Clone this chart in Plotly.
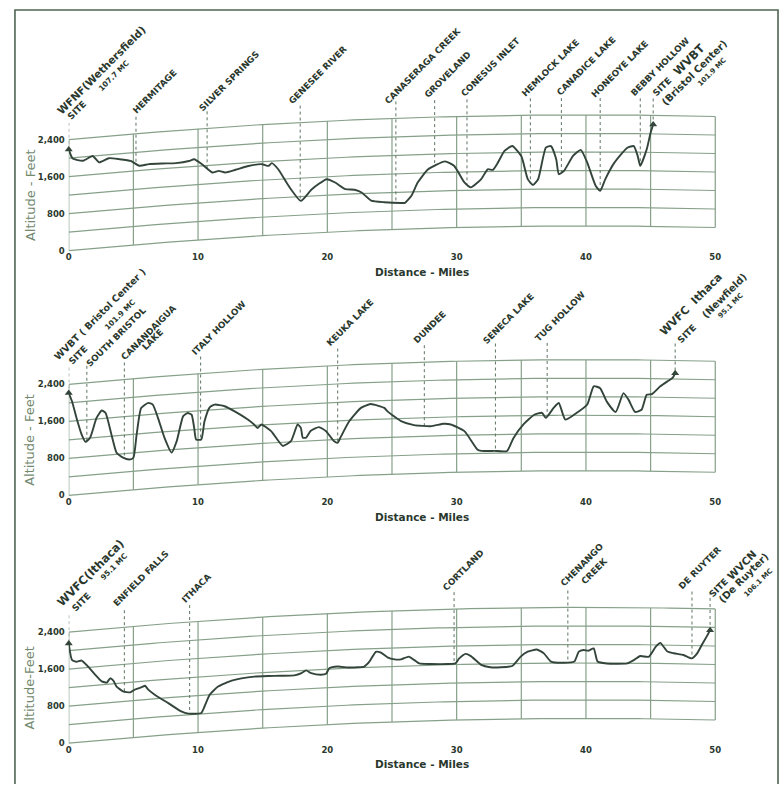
import numpy as np
import plotly.graph_objects as go

# ---------------- data (miles, feet) ----------------
p1_mile = [0.0, 0.3, 1.1, 1.85, 2.35, 3.1, 3.9, 4.8, 5.45, 6.2, 7.25, 8.3, 9.3, 9.7, 10.3, 11.1,
           11.6, 12.1, 12.9, 13.9, 14.95, 15.45, 15.7, 16.2, 17.0, 17.95, 18.8, 19.95, 20.6, 21.4,
           22.1, 22.65, 23.4, 24.4, 25.7, 26.0, 26.5, 27.0, 27.8, 29.1, 29.8, 30.6, 31.1, 31.9,
           32.4, 32.8, 33.2, 33.7, 34.3, 35.0, 35.5, 35.9, 36.3, 36.9, 37.3, 37.7, 37.9, 38.3,
           39.0, 39.6, 40.1, 40.75, 41.1, 41.5, 42.2, 43.2, 43.7, 44.0, 44.2, 44.7, 45.0, 45.2]
p1_alt = [2190, 1985, 1915, 2000, 1850, 1920, 1880, 1820, 1700, 1720, 1710, 1695, 1720, 1750, 1630,
          1435, 1460, 1415, 1460, 1525, 1545, 1500, 1555, 1415, 1045, 705, 945, 1145, 1065, 910,
          890, 825, 640, 595, 565, 565, 715, 1000, 1275, 1435, 1335, 970, 860, 1035, 1245, 1230,
          1390, 1635, 1740, 1520, 1020, 890, 1015, 1695, 1730, 1445, 1120, 1190, 1515, 1645, 1370,
          870, 760, 1015, 1370, 1695, 1730, 1520, 1305, 1665, 2025, 2205]

p2_mile = [0.0, 0.25, 0.6, 1.0, 1.3, 1.65, 2.15, 2.55, 2.85, 3.3, 3.7, 4.2, 4.7, 5.0, 5.25, 5.6,
           6.15, 6.5, 6.9, 7.4, 7.95, 8.35, 8.85, 9.2, 9.5, 9.7, 9.85, 10.25, 10.5, 10.9, 11.3,
           12.05, 12.8, 13.85, 14.35, 14.6, 14.9, 15.65, 16.55, 17.2, 17.7, 17.95, 18.1, 18.35,
           18.7, 19.35, 19.9, 20.5, 20.8, 21.0, 21.7, 22.6, 23.35, 24.4, 24.7, 25.7, 26.7, 28.0,
           29.0, 29.55, 30.6, 31.6, 31.9, 32.9, 33.9, 34.4, 35.2, 36.0, 36.6, 36.9, 37.5, 37.9,
           38.4, 39.1, 40.1, 40.6, 41.1, 41.6, 42.3, 42.9, 43.3, 43.8, 44.3, 44.7, 45.1, 45.75,
           46.3, 46.7, 46.9]
p2_alt = [2215, 2030, 1660, 1290, 1125, 1205, 1620, 1770, 1710, 1235, 830, 710, 660, 690, 1185,
          1750, 1850, 1805, 1510, 1070, 735, 975, 1505, 1565, 1525, 1235, 980, 970, 1360, 1655,
          1705, 1655, 1535, 1335, 1215, 1140, 1210, 1055, 720, 820, 1165, 1090, 875, 870, 1010,
          1085, 990, 770, 725, 830, 1185, 1460, 1535, 1440, 1350, 1140, 1045, 1010, 1055, 1035,
          885, 485, 450, 445, 440, 720, 1020, 1215, 1255, 1145, 1360, 1465, 1105, 1215, 1430,
          1825, 1785, 1500, 1270, 1680, 1535, 1275, 1325, 1650, 1665, 1835, 1945, 2020, 2125]

p3_mile = [0.0, 0.25, 0.6, 1.0, 1.5, 2.05, 2.55, 2.95, 3.2, 3.45, 3.7, 4.2, 4.75, 5.1, 5.65, 5.9,
           6.15, 6.65, 7.7, 8.7, 9.25, 10.25, 10.5, 10.9, 11.55, 12.6, 13.35, 14.35, 15.4, 16.4,
           17.45, 18.0, 18.35, 18.75, 19.5, 19.9, 20.15, 20.8, 21.6, 22.35, 22.85, 23.25, 23.75,
           24.15, 24.65, 25.2, 25.7, 26.3, 26.7, 27.1, 28.0, 29.3, 29.9, 30.2, 30.7, 31.1, 31.9,
           32.6, 33.4, 34.3, 34.95, 35.5, 36.2, 36.75, 37.3, 38.3, 39.1, 39.45, 39.8, 40.2, 40.6,
           40.9, 41.6, 43.2, 43.7, 44.2, 44.85, 45.4, 45.75, 46.3, 46.8, 47.55, 48.2, 48.6, 49.0,
           49.4, 49.6]
p3_alt = [2155, 1795, 1745, 1760, 1615, 1425, 1270, 1235, 1320, 1265, 1130, 1015, 980, 1030, 1070,
          1095, 1005, 885, 680, 480, 420, 415, 550, 795, 960, 1070, 1105, 1125, 1120, 1110, 1100,
          1140, 1195, 1130, 1085, 1100, 1215, 1245, 1215, 1210, 1220, 1320, 1530, 1505, 1400, 1350,
          1345, 1400, 1325, 1245, 1225, 1215, 1225, 1330, 1425, 1375, 1180, 1125, 1120, 1145, 1345,
          1450, 1495, 1410, 1230, 1205, 1230, 1445, 1480, 1465, 1515, 1230, 1190, 1195, 1265, 1355,
          1340, 1560, 1645, 1460, 1425, 1390, 1320, 1430, 1635, 1830, 1940]

p1_places = ["HERMITAGE", "SILVER SPRINGS", "GENESEE RIVER", "CANASERAGA CREEK", "GROVELAND",
             "CONESUS INLET", "HEMLOCK LAKE", "CANADICE LAKE", "HONEOYE LAKE", "BEBBY HOLLOW"]
p1_place_mile = [5.2, 10.7, 17.9, 25.3, 28.3, 30.8, 35.7, 38.1, 41.1, 44.2]
p2_places = ["SOUTH BRISTOL", "CANANDAIGUA", "ITALY HOLLOW", "KEUKA LAKE", "DUNDEE",
             "SENECA LAKE", "TUG HOLLOW"]
p2_place_mile = [1.4, 4.3, 10.2, 20.8, 27.5, 33.0, 37.0]
p3_places = ["ENFIELD FALLS", "ITHACA", "CORTLAND", "CHENANGO", "DE RUYTER"]
p3_place_mile = [4.3, 9.35, 29.8, 38.6, 48.2]

x_ticks = [0, 10, 20, 30, 40, 50]
y_ticks = [0, 800, 1600, 2400]
y_tick_text = ["0", "800", "1,600", "2,400"]
grid_alt = [0, 400, 800, 1200, 1600, 2000, 2400]
grid_mile = [0, 5, 10, 15, 20, 25, 30, 35, 40, 45, 50]

# ---------------- styling / geometry ----------------
W, H = 781, 788
PXM = 12.98        # px per mile
X0PX = 66
XMAX = 50.8
S = 0.0465         # px per foot
D = 535.0          # earth-curvature bulge (ft) at apex
GAP = 18 / S       # label gap above grid top
INK = "#2a382d"
PROF = "#33453a"
GRID = "#86a089"
DASH = "#5d7461"
AXT = "#72896f"
FONT = "DejaVu Sans"
PLACE_FS = 8.8

# label start offsets (px, right / down) from the top of each leader line
place_off = {
    "HERMITAGE": (0, -1), "SILVER SPRINGS": (-5, 2), "GENESEE RIVER": (-9, 1),
    "CANASERAGA CREEK": (-9, 5), "GROVELAND": (-8, 0), "CONESUS INLET": (-3, -1),
    "HEMLOCK LAKE": (-6, 0), "CANADICE LAKE": (-2, 0), "HONEOYE LAKE": (-6, 2),
    "BEBBY HOLLOW": (-7, 0),
    "SOUTH BRISTOL": (2, 3), "CANANDAIGUA": (-1, 0), "ITALY HOLLOW": (-6, 1),
    "KEUKA LAKE": (-9, 0), "DUNDEE": (-8, 0), "SENECA LAKE": (-10, 3), "TUG HOLLOW": (-9, 1),
    "ENFIELD FALLS": (-8, -2), "ITHACA": (-5, 0), "CORTLAND": (-8, 1), "CHENANGO": (-4, -2),
    "DE RUYTER": (-11, 0),
}
second_lines = {"CANANDAIGUA": ("LAKE", 20, -10), "CHENANGO": ("CREEK", 16, -4)}

# site texts: (text, fontsize, dx, dy)
site_text = {
    ("", "L"): [("WFNF(Wethersfield)", 10.5, -9, -7), ("SITE", 9, 2, -1),
                ("107.7 MC", 7.5, 32, -29)],
    ("", "R"): [("SITE", 9, 2, 0), ("WVBT", 11.5, 23, -21),
                ("(Bristol Center)", 10, 12, 9), ("101.9 MC", 7, 47, -9)],
    ("2", "L"): [("WVBT ( Bristol Center )", 9.5, -12, -5), ("SITE", 9, 3, -1),
                 ("101.9 MC", 7.5, 38, -35)],
    ("2", "R"): [("WVFC\u00a0\u00a0Ithaca", 11, -12, -6), ("SITE", 9, 5, 2),
                 ("(Newfield)", 10, 30, -24), ("95.1 MC", 7, 45, -22)],
    ("3", "L"): [("WVFC(Ithaca)", 11.5, -9, -7), ("SITE", 9, 6, -2),
                 ("95.1 MC", 7.5, 34, -32)],
    ("3", "R"): [("SITE", 9, 2, 8), ("WVCN", 10.5, 20, -10),
                 ("(De Ruyter)", 10, 12, 13), ("106.1 MC", 7, 36, 8)],
}


def bulge(m):
    m = np.asarray(m, dtype=float)
    return D * (1 - ((40 - m) / 40) ** 2)


def level(m):
    return float(2400 + bulge(m) + GAP)


panels = [
    dict(sfx="", p0=252, top=14, miles=p1_mile, alt=p1_alt, places=p1_places,
         pmiles=p1_place_mile, ytitle="Altitude - Feet", xt_y=273),
    dict(sfx="2", p0=498, top=280, miles=p2_mile, alt=p2_alt, places=p2_places,
         pmiles=p2_place_mile, ytitle="Altitude - Feet", xt_y=520),
    dict(sfx="3", p0=747, top=535, miles=p3_mile, alt=p3_alt, places=p3_places,
         pmiles=p3_place_mile, ytitle="Altitude-Feet", xt_y=768),
]

fig = go.Figure()
annotations = []
layout = dict(width=W, height=H, margin=dict(l=0, r=0, t=0, b=0),
              paper_bgcolor="white", plot_bgcolor="rgba(0,0,0,0)", showlegend=False)


def rot(sfx, mile, yval, text, fs, dx, dy, color=INK):
    hbox = 1.3 * fs + 4
    c = 0.45 * fs - 0.5
    annotations.append(dict(
        x=mile, y=yval, xref="x" + sfx, yref="y" + sfx,
        text="<b>%s</b>" % text, textangle=-45,
        xanchor="left", yanchor="bottom", showarrow=False,
        xshift=dx - 0.707 * hbox + c, yshift=-(dy + c),
        font=dict(family=FONT, size=fs, color=color)))


for P in panels:
    sfx = P["sfx"]
    xr, yr = "x" + sfx, "y" + sfx
    p0, top = P["p0"], P["top"]
    ymin, ymax = -1 / S, (p0 - top) / S
    layout["xaxis" + sfx] = dict(
        domain=[X0PX / W, (X0PX + XMAX * PXM) / W], range=[0, XMAX], anchor=yr,
        tickvals=x_ticks, ticktext=[str(t) for t in x_ticks], showgrid=False, zeroline=False,
        showline=False, ticks="", ticklabelstandoff=-1,
        tickfont=dict(family=FONT, size=8.5, color=INK, weight="bold"))
    layout["yaxis" + sfx] = dict(
        domain=[1 - (p0 + 1) / H, 1 - top / H], range=[ymin, ymax], anchor=xr,
        tickvals=y_ticks, ticktext=y_tick_text, showgrid=False, zeroline=False, showline=False,
        ticks="", ticklabelstandoff=3,
        tickfont=dict(family=FONT, size=8.5, color=INK, weight="bold"))

    # curved-earth grid
    gx = np.linspace(0, 50, 101)
    hx, hy = [], []
    for a in grid_alt:
        hx += list(gx) + [None]
        hy += list(a + bulge(gx)) + [None]
    vx, vy = [], []
    for m in grid_mile:
        vx += [m, m, None]
        vy += [float(bulge(m)), float(2400 + bulge(m)), None]
    fig.add_trace(go.Scatter(x=hx, y=hy, xaxis=xr, yaxis=yr, mode="lines",
                             line=dict(color=GRID, width=1.2), hoverinfo="skip"))
    fig.add_trace(go.Scatter(x=vx, y=vy, xaxis=xr, yaxis=yr, mode="lines",
                             line=dict(color=GRID, width=1.2), hoverinfo="skip"))

    miles = np.array(P["miles"], float)
    alt = np.array(P["alt"], float)

    # dashed leader lines
    lx, ly = [], []
    for m in P["pmiles"] + [miles[0], miles[-1]]:
        lx += [m, m, None]
        ly += [level(m) - 1 / S, float(np.interp(m, miles, alt) + bulge(m)), None]
    fig.add_trace(go.Scatter(x=lx, y=ly, xaxis=xr, yaxis=yr, mode="lines",
                             line=dict(color=DASH, width=1, dash="3px,3px"), hoverinfo="skip"))

    # terrain profile
    fig.add_trace(go.Scatter(x=miles, y=alt + bulge(miles), xaxis=xr, yaxis=yr, mode="lines",
                             line=dict(color=PROF, width=1.9, shape="spline", smoothing=0.5)))
    fig.add_trace(go.Scatter(x=[miles[0], miles[-1]],
                             y=[alt[0] + bulge(miles[0]), alt[-1] + bulge(miles[-1])],
                             xaxis=xr, yaxis=yr, mode="markers", cliponaxis=False,
                             marker=dict(symbol="triangle-up", size=7, color=PROF)))

    # place labels
    for name, m in zip(P["places"], P["pmiles"]):
        ox, oy = place_off.get(name, (-6, 0))
        rot(sfx, m, level(m), name, PLACE_FS, ox, oy)
        if name in second_lines:
            t2, ax2, ay2 = second_lines[name]
            rot(sfx, m, level(m), t2, PLACE_FS, ax2, ay2)
    for side, m in (("L", miles[0]), ("R", miles[-1])):
        for (t, fs, ox, oy) in site_text[(sfx, side)]:
            rot(sfx, float(m), level(m), t, fs, ox, oy)

    # axis titles
    annotations.append(dict(x=27 / W, xref="paper", y=1200, yref=yr, text=P["ytitle"],
                            textangle=-90, showarrow=False, xanchor="center", yanchor="middle",
                            font=dict(family=FONT, size=13, color=AXT)))
    annotations.append(dict(x=421 / W, xref="paper", y=1 - P["xt_y"] / H, yref="paper",
                            text="<b>Distance - Miles</b>", showarrow=False,
                            xanchor="center", yanchor="middle",
                            font=dict(family=FONT, size=10.5, color=INK)))

layout["annotations"] = annotations
fx0, fx1, fy = 12 / W, 778 / W, 1 - 10 / H
layout["shapes"] = [dict(type="path", xref="paper", yref="paper",
                         path="M %.5f 0 L %.5f %.5f L %.5f %.5f L %.5f 0" % (fx0, fx0, fy, fx1, fy, fx1),
                         line=dict(color="#4f6453", width=1.6))]
fig.update_layout(**layout)
fig.write_html("out.html")
